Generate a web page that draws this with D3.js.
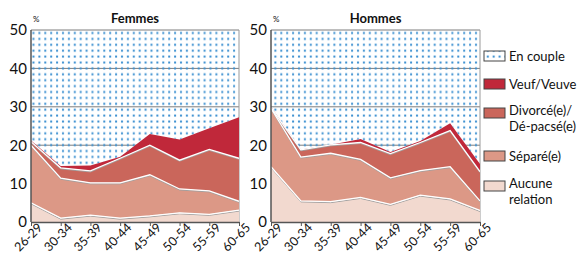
<!DOCTYPE html>
<html lang="fr">
<head>
<meta charset="UTF-8">
<title>Femmes / Hommes</title>
<style>
  body { margin: 0; background: #fff; }
  text { font-family: Lato, "Open Sans", sans-serif; fill: #111; }
</style>
</head>
<body>
<div id="chart"></div>
<script src="https://d3js.org/d3.v7.min.js"></script>
<script>
// categories d'age
var ages = ["26-29", "30-34", "35-39", "40-44", "45-49", "50-54", "55-59", "60-65"];
var yTicks = [0, 10, 20, 30, 40, 50];

// series (en %)
var femmesAucune  = [5.0, 1.0, 1.8, 1.0, 1.6, 2.4, 2.0, 3.1];
var femmesSepare  = [15.0, 10.4, 8.4, 9.2, 10.7, 6.2, 6.1, 2.3];
var femmesDivorce = [0.9, 2.7, 3.1, 6.4, 7.7, 7.5, 10.8, 11.2];
var femmesVeuf    = [0.3, 0.5, 1.4, 0.4, 2.9, 5.4, 5.5, 10.7];

var hommesAucune  = [14.4, 5.5, 5.3, 6.4, 4.6, 7.0, 6.0, 3.0];
var hommesSepare  = [15.2, 11.4, 12.6, 9.9, 6.9, 6.4, 8.4, 2.5];
var hommesDivorce = [0.2, 1.9, 2.2, 4.4, 6.3, 7.3, 9.4, 7.6];
var hommesVeuf    = [0.2, 0.1, 0.0, 0.9, 0.4, 0.4, 1.9, 2.0];

var keys = ["aucune", "separe", "divorce", "veuf", "couple"];
var colors = {aucune: "#f2d9cf", separe: "#dc9886", divorce: "#ca665b", veuf: "#c0283a"};
var legendItems = [
  {key: "couple", lines: ["En couple"]},
  {key: "veuf", lines: ["Veuf/Veuve"]},
  {key: "divorce", lines: ["Divorcé(e)/", "Dé-pacsé(e)"]},
  {key: "separe", lines: ["Séparé(e)"]},
  {key: "aucune", lines: ["Aucune", "relation"]}
];

function rows(a, s, d, v) {
  return ages.map(function(age, i) {
    return {age: age, aucune: a[i], separe: s[i], divorce: d[i], veuf: v[i],
            couple: 100 - a[i] - s[i] - d[i] - v[i]};
  });
}

var panels = [
  {title: "Femmes", left: 31, right: 239, data: rows(femmesAucune, femmesSepare, femmesDivorce, femmesVeuf)},
  {title: "Hommes", left: 271, right: 480, data: rows(hommesAucune, hommesSepare, hommesDivorce, hommesVeuf)}
];

var W = 587, H = 253, plotTop = 30, plotBottom = 222;

var svg = d3.select("#chart").append("svg")
  .attr("width", W).attr("height", H);

var defs = svg.append("defs");
var pat = defs.append("pattern")
  .attr("id", "dots")
  .attr("patternUnits", "userSpaceOnUse")
  .attr("width", 5.9).attr("height", 5.9);
pat.append("rect").attr("x", 3).attr("y", 2.5).attr("width", 2).attr("height", 2)
  .attr("fill", "#3a8fd0");

var y = d3.scaleLinear().domain([0, 50]).range([plotBottom, plotTop]);
var stack = d3.stack().keys(keys);

panels.forEach(function(p, pi) {
  var x = d3.scalePoint().domain(ages).range([p.left, p.right]);
  var g = svg.append("g");

  defs.append("clipPath").attr("id", "clip" + pi)
    .append("rect")
      .attr("x", p.left).attr("y", plotTop)
      .attr("width", p.right - p.left).attr("height", plotBottom - plotTop);

  // grille
  g.selectAll(".grid").data(yTicks.filter(function(t) { return t > 0; }))
    .enter().append("line")
      .attr("x1", p.left).attr("x2", p.right)
      .attr("y1", function(d) { return y(d); }).attr("y2", function(d) { return y(d); })
      .attr("stroke", "#7d7d7d").attr("stroke-width", 1);
  g.append("line")
    .attr("x1", p.right).attr("x2", p.right).attr("y1", plotTop).attr("y2", plotBottom)
    .attr("stroke", "#9a9a9a");

  var series = stack(p.data);
  var area = d3.area()
    .x(function(d) { return x(d.data.age); })
    .y0(function(d) { return y(d[0]); })
    .y1(function(d) { return y(d[1]); });
  var topLine = d3.line()
    .x(function(d) { return x(d.data.age); })
    .y(function(d) { return y(d[1]); });

  var layer = g.append("g").attr("clip-path", "url(#clip" + pi + ")");
  layer.selectAll("path.area").data(series).enter().append("path")
    .attr("class", "area")
    .attr("d", area)
    .attr("fill", function(s) { return s.key === "couple" ? "url(#dots)" : colors[s.key]; });

  // traits de separation
  var inner = series.filter(function(s) { return s.key !== "couple" && s.key !== "veuf"; });
  layer.selectAll("path.shadow").data(inner).enter().append("path")
    .attr("d", topLine)
    .attr("transform", "translate(0,1)")
    .attr("fill", "none").attr("stroke", "#a0a0a0").attr("stroke-width", 1);
  layer.selectAll("path.sep").data(inner).enter().append("path")
    .attr("d", topLine)
    .attr("fill", "none").attr("stroke", "#fff").attr("stroke-width", 1.3);

  // axes
  g.append("line").attr("x1", p.left).attr("x2", p.left).attr("y1", plotTop).attr("y2", plotBottom)
    .attr("stroke", "#555").attr("stroke-width", 1.5);
  var xAxis = g.append("g").attr("transform", "translate(0," + plotBottom + ")")
    .call(d3.axisBottom(x).tickSize(4).tickSizeOuter(0));
  xAxis.select(".domain").attr("stroke", "#555").attr("stroke-width", 1.5);
  xAxis.selectAll(".tick line").attr("stroke", "#555");
  xAxis.selectAll(".tick text")
    .attr("font-size", 12.5)
    .attr("text-anchor", "end")
    .attr("dx", "0.3em").attr("dy", "0.55em")
    .attr("transform", "rotate(-45)")
    .attr("x", 0).attr("y", 6)
    .style("font-family", "Lato, sans-serif").attr("fill", "#111");

  var yAxis = g.append("g").attr("transform", "translate(" + p.left + ",0)")
    .call(d3.axisLeft(y).tickValues(yTicks).tickSize(0).tickPadding(4));
  yAxis.select(".domain").remove();
  yAxis.selectAll(".tick text").attr("font-size", 15)
    .style("font-family", "Lato, sans-serif").attr("fill", "#111");

  g.append("text").attr("x", p.left + 2).attr("y", 22)
    .attr("font-size", 8).text("%");
  g.append("text").attr("x", (p.left + p.right) / 2).attr("y", 23)
    .attr("text-anchor", "middle").attr("font-size", 13).attr("font-weight", "bold")
    .text(p.title);
});

// legende
var legendY = [56, 84, 110, 156, 183];
var lg = svg.append("g");
legendItems.forEach(function(it, i) {
  var yy = legendY[i];
  lg.append("rect").attr("x", 484).attr("y", yy - 5 + (it.lines.length > 1 ? 3 : 0))
    .attr("width", 21).attr("height", 10)
    .attr("fill", it.key === "couple" ? "url(#dots)" : colors[it.key])
    .attr("stroke", "#444").attr("stroke-width", 1);
  it.lines.forEach(function(l, j) {
    lg.append("text").attr("x", 509).attr("y", yy + 5 + j * 16)
      .attr("font-size", 13).text(l);
  });
});
</script>
</body>
</html>
